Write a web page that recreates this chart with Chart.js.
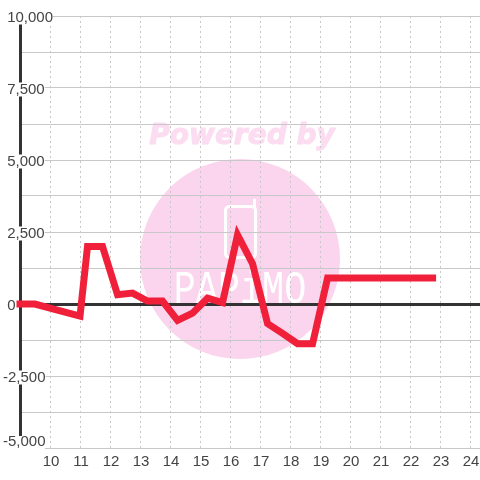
<!DOCTYPE html>
<html>
<head>
<meta charset="utf-8">
<script src="https://cdn.jsdelivr.net/npm/chart.js@4/dist/chart.umd.min.js"></script>
<style>
html, body { margin: 0; padding: 0; background: #fff; }
canvas { display: block; }
</style>
</head>
<body>
<canvas id="chart" width="480" height="480"></canvas>
<script>
// data
const hours = [9, 9.5, 10, 10.5, 11, 11.25, 11.75, 12.25, 12.75, 13.25, 13.75, 14.25, 14.75, 15.25, 15.75, 16.25, 16.75, 17.25, 17.75, 18.25, 18.75, 19.25, 19.75, 20.25, 20.75, 21.25, 21.75, 22.25, 22.75];
const values = [0, 0, -140, -280, -420, 2000, 2000, 320, 380, 100, 100, -570, -320, 200, 50, 2400, 1400, -680, -1020, -1380, -1380, 900, 900, 900, 900, 900, 900, 900, 900];
const hourTicks = [10, 11, 12, 13, 14, 15, 16, 17, 18, 19, 20, 21, 22, 23, 24];
const valueTicks = [10000, 8750, 7500, 6250, 5000, 3750, 2500, 1250, 0, -1250, -2500, -3750, -5000];
const valueLabels = [' 10,000', '', ' 7,500', '', ' 5,000', '', ' 2,500', '', ' 0', '', '-2,500', '', ''];
const bottomLabel = '-5,000';

// watermark behind the grid
const watermark = {
    id: 'watermark',
    beforeDraw(chart) {
        const ctx = chart.ctx;
        ctx.save();
        ctx.fillStyle = '#ffffff';
        ctx.fillRect(0, 0, 480, 480);

        ctx.fillStyle = '#fbd5ee';
        ctx.beginPath();
        ctx.arc(240, 259, 100, 0, Math.PI * 2);
        ctx.fill();

        ctx.fillStyle = '#fcdcf0';
        ctx.strokeStyle = '#fcdcf0';
        ctx.lineWidth = 1;
        ctx.font = 'italic bold 28px "DejaVu Sans"';
        ctx.textAlign = 'center';
        ctx.textBaseline = 'alphabetic';
        ctx.fillText('Powered by', 242, 144);
        ctx.strokeText('Powered by', 242, 144);

        // phone
        ctx.strokeStyle = '#ffffff';
        ctx.lineWidth = 3;
        ctx.lineJoin = 'round';
        ctx.lineCap = 'round';
        ctx.beginPath();
        ctx.roundRect(225.5, 206.5, 30, 51, 4);
        ctx.moveTo(254.5, 206);
        ctx.lineTo(254.5, 200);
        ctx.stroke();

        // logo text
        ctx.fillStyle = '#ffffff';
        ctx.translate(240, 303);
        ctx.scale(0.8, 1);
        ctx.font = '46px "Liberation Mono"';
        ctx.fillText('PAPiMO', 0, 0);
        ctx.restore();
    }
};

// bottom y label sits above its line, the tick options can't do that for one tick
const bottomTick = {
    id: 'bottomTick',
    beforeDatasetsDraw(chart) {
        const ctx = chart.ctx;
        const y = chart.scales.y.getPixelForValue(valueTicks[valueTicks.length - 1]);
        ctx.save();
        ctx.fillStyle = '#ffffff';
        ctx.fillRect(3, y - 12, 42, 14);
        ctx.fillStyle = '#444444';
        ctx.font = '15px "Liberation Sans"';
        ctx.textAlign = 'left';
        ctx.textBaseline = 'middle';
        ctx.fillText(bottomLabel, 3, y - 6);
        ctx.restore();
    }
};

new Chart(document.getElementById('chart'), {
    type: 'line',
    data: {
        datasets: [{
            data: hours.map((h, i) => ({ x: h, y: values[i] })),
            borderColor: '#f0203a',
            borderWidth: 7,
            borderCapStyle: 'square',
            borderJoinStyle: 'miter',
            tension: 0,
            pointRadius: 0,
            clip: false
        }]
    },
    options: {
        responsive: false,
        animation: false,
        layout: { padding: { top: 16, left: 0, right: 0, bottom: 0 } },
        plugins: { legend: { display: false }, tooltip: { enabled: false } },
        scales: {
            x: {
                type: 'linear',
                min: 9,
                max: 24.33,
                afterBuildTicks(scale) {
                    scale.ticks = hourTicks.map(v => ({ value: v }));
                },
                afterFit(scale) {
                    scale.height = 32;
                    scale.paddingLeft = 0;
                    scale.paddingRight = 0;
                },
                border: { display: false, dash: [2, 3] },
                grid: { color: '#c8c8c8', lineWidth: 1, drawTicks: false },
                ticks: {
                    autoSkip: false,
                    maxRotation: 0,
                    padding: 5,
                    labelOffset: 1,
                    color: '#444444',
                    font: { family: '"Liberation Sans"', size: 15 },
                    callback: v => String(v)
                }
            },
            y: {
                min: -5000,
                max: 10000,
                afterBuildTicks(scale) {
                    scale.ticks = valueTicks.map(v => ({ value: v }));
                },
                afterFit(scale) {
                    scale.width = 20;
                    scale.paddingTop = 0;
                    scale.paddingBottom = 0;
                },
                border: { display: true, color: '#333333', width: 3 },
                grid: {
                    drawTicks: false,
                    color: ctx => ctx.tick && ctx.tick.value === 0 ? '#333333' : '#c8c8c8',
                    lineWidth: ctx => ctx.tick && ctx.tick.value === 0 ? 3 : 1
                },
                ticks: {
                    mirror: true,
                    autoSkip: false,
                    padding: -17,
                    labelOffset: 2,
                    color: '#444444',
                    font: { family: '"Liberation Sans"', size: 15, lineHeight: 1 },
                    showLabelBackdrop: true,
                    backdropColor: ctx => valueLabels[ctx.index] ? '#ffffff' : 'rgba(0,0,0,0)',
                    backdropPadding: { top: 0, bottom: -1, left: 0, right: 0 },
                    callback: (v, i) => valueLabels[i]
                }
            }
        }
    },
    plugins: [watermark, bottomTick]
});
</script>
</body>
</html>
